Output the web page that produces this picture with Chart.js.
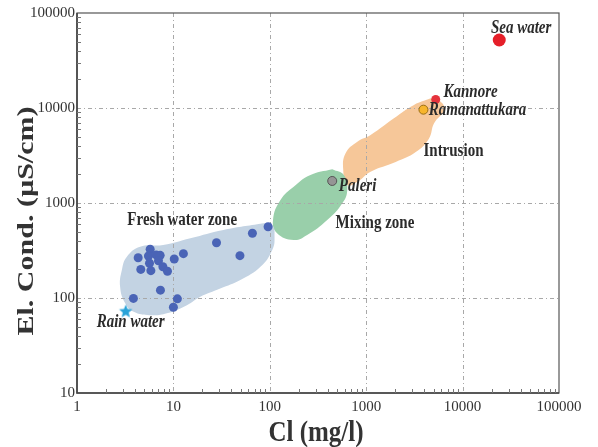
<!DOCTYPE html>
<html>
<head>
<meta charset="utf-8">
<script src="https://cdn.jsdelivr.net/npm/chart.js@4.4.0/dist/chart.umd.min.js"></script>
<style>
  html, body { margin: 0; padding: 0; background: #fff; }
</style>
</head>
<body>
<canvas id="chart" width="598" height="447"></canvas>
<script>
// axis ticks
const X_TICKS = [1, 10, 100, 1000, 10000, 100000];
const X_TICK_LABELS = ["1", "10", "100", "1000", "10000", "100000"];
const Y_TICKS = [10, 100, 1000, 10000, 100000];
const Y_TICK_LABELS = ["10", "100", "1000", "10000", "100000"];

// fresh water samples: Cl (mg/l) vs EC (µS/cm)
const freshCl = [96, 66, 28, 49, 12.7, 10.2, 5.74, 4.31, 5.51, 6.62, 7.29, 5.65, 7.0, 4.59, 5.84, 7.78, 8.68, 7.34, 3.85, 11.0, 10.0];
const freshEC = [563, 480, 382, 279, 293, 257, 326, 265, 277, 284, 281, 232, 247, 200, 194, 213, 191, 121, 99, 98, 80];

// named sites
const siteNames = ["Sea water", "Kannore", "Ramanattukara", "Paleri", "Rain water"];
const siteCl = [24000, 5260, 3925, 444, 3.2];
const siteEC = [52000, 12300, 9600, 1706, 72];

// zone outlines (Cl, EC)
const freshZoneCl = [85.8, 106, 112, 106, 80, 49.5, 30.6, 19.0, 13.8, 8.56, 5.74, 3.82, 3.15, 2.80, 2.92, 3.29, 4.52, 7.83, 15.0, 33];
const freshZoneEC = [611, 586, 442, 320, 213, 155, 126, 103, 84, 69, 66, 72, 88.5, 131, 197, 272, 347, 361, 425, 520];
const mixZoneCl = [444, 586, 636, 565, 394, 244, 177, 119, 108, 129, 177, 264];
const mixZoneEC = [2265, 1972, 1371, 993, 662, 460, 408, 480, 662, 1076, 1486, 1972];
const intrZoneCl = [4670, 5930, 6420, 5060, 4455, 3265, 2023, 1110, 809, 636, 578, 611, 809, 1110, 1940, 3130];
const intrZoneEC = [12650, 11640, 9530, 6900, 4720, 3443, 2705, 2135, 1675, 1546, 2225, 3335, 4420, 5200, 7800, 10770];

// text annotations, anchored at (Cl, EC) = left/baseline of the text
const noteText = ["Sea water", "Kannore", "Ramanattukara", "Intrusion", "Paleri", "Mixing zone", "Fresh water zone", "Rain water"];
const noteCl = [19650, 6330, 4455, 3925, 520, 481, 3.33, 1.60];
const noteEC = [61500, 13150, 8440, 3150, 1346, 542, 586, 49.9];
const noteItalic = [true, true, true, false, true, false, false, true];

const SERIF = '"Liberation Serif", "Times New Roman", serif';

const toPts = (xs, ys) => xs.map((x, i) => ({ x, y: ys[i] }));

function zone(label, xs, ys, color) {
  const pts = toPts(xs, ys);
  pts.push({ x: xs[0], y: ys[0] }); // close the outline
  return {
    type: "line", label, data: pts,
    backgroundColor: color, borderColor: color, borderWidth: 0,
    fill: "shape", tension: 0.45, pointRadius: 0, order: 3
  };
}

function makeStar(r, color) {
  const c = document.createElement("canvas");
  c.width = c.height = 2 * r + 2;
  const g = c.getContext("2d");
  g.fillStyle = color;
  g.beginPath();
  for (let i = 0; i < 10; i++) {
    const a = -Math.PI / 2 + i * Math.PI / 5;
    const rr = i % 2 ? r * 0.45 : r;
    g.lineTo(c.width / 2 + rr * Math.cos(a), c.height / 2 + rr * Math.sin(a));
  }
  g.closePath();
  g.fill();
  return c;
}

// stretched text, the original figure is taller than it is wide
function stretchText(ctx, text, x, y, font, sy) {
  ctx.save();
  ctx.translate(x, y);
  ctx.scale(1, sy);
  ctx.font = font;
  ctx.fillText(text, 0, 0);
  ctx.restore();
}

const decor = {
  id: "decor",
  afterDatasetDraw(chart, args) {
    // grid goes over the zones but under the points
    if (args.index !== 0) return;
    const { ctx, chartArea: a, scales: { x, y } } = chart;
    ctx.save();
    ctx.strokeStyle = "#a8a8a8";
    ctx.lineWidth = 1;
    ctx.setLineDash([4, 3, 1, 3]);
    X_TICKS.slice(1, -1).forEach(v => {
      const px = Math.round(x.getPixelForValue(v)) + 0.5;
      ctx.beginPath(); ctx.moveTo(px, a.top); ctx.lineTo(px, a.bottom); ctx.stroke();
    });
    Y_TICKS.slice(1, -1).forEach(v => {
      const py = Math.round(y.getPixelForValue(v)) + 0.5;
      ctx.beginPath(); ctx.moveTo(a.left, py); ctx.lineTo(a.right, py); ctx.stroke();
    });
    ctx.restore();
  },
  afterDraw(chart) {
    const { ctx, chartArea: a, scales: { x, y } } = chart;
    ctx.save();
    // frame
    ctx.strokeStyle = "#555";
    ctx.lineWidth = 1.2;
    ctx.strokeRect(a.left, a.top, a.right - a.left, a.bottom - a.top);
    ctx.strokeStyle = "#444";
    ctx.lineWidth = 1.6;
    ctx.beginPath();
    ctx.moveTo(a.left, a.top); ctx.lineTo(a.left, a.bottom); ctx.lineTo(a.right, a.bottom);
    ctx.stroke();
    // minor ticks inside the axes
    ctx.strokeStyle = "#777";
    ctx.lineWidth = 1;
    for (let d = 0; d < 5; d++) {
      for (let m = 2; m <= 9; m++) {
        const px = Math.round(x.getPixelForValue(m * Math.pow(10, d))) + 0.5;
        ctx.beginPath(); ctx.moveTo(px, a.bottom); ctx.lineTo(px, a.bottom - 4); ctx.stroke();
      }
    }
    for (let d = 1; d < 5; d++) {
      for (let m = 2; m <= 9; m++) {
        const py = Math.round(y.getPixelForValue(m * Math.pow(10, d))) + 0.5;
        ctx.beginPath(); ctx.moveTo(a.left, py); ctx.lineTo(a.left + 4, py); ctx.stroke();
      }
    }
    // annotations
    ctx.fillStyle = "#2b2b2b";
    ctx.textAlign = "left";
    ctx.textBaseline = "alphabetic";
    noteText.forEach((t, i) => {
      const f = (noteItalic[i] ? "italic " : "") + "bold 15px " + SERIF;
      stretchText(ctx, t, x.getPixelForValue(noteCl[i]), y.getPixelForValue(noteEC[i]), f, 1.2);
    });
    // axis titles
    ctx.fillStyle = "#333";
    ctx.textAlign = "center";
    stretchText(ctx, "Cl (mg/l)", (a.left + a.right) / 2 - 2, 441, "bold 25px " + SERIF, 1.2);
    ctx.save();
    ctx.translate(33, 221);
    ctx.rotate(-Math.PI / 2);
    ctx.scale(1.25, 1);
    ctx.font = "bold 24px " + SERIF;
    ctx.textBaseline = "alphabetic";
    ctx.fillText("El. Cond. (\u00b5S/cm)", 0, 0);
    ctx.restore();
    ctx.restore();
  }
};

const star = makeStar(7, "#2aa3d8");

new Chart(document.getElementById("chart"), {
  type: "scatter",
  data: {
    datasets: [
      zone("Fresh water zone", freshZoneCl, freshZoneEC, "#c3d3e3"),
      zone("Mixing zone", mixZoneCl, mixZoneEC, "#99cfaa"),
      zone("Intrusion", intrZoneCl, intrZoneEC, "#f6c799"),
      {
        label: "Fresh water",
        data: toPts(freshCl, freshEC),
        backgroundColor: "#4a64b6", borderWidth: 0, pointRadius: 4.5, order: 1
      },
      {
        label: "Sites",
        data: toPts(siteCl, siteEC),
        pointStyle: ["circle", "circle", "circle", "circle", star],
        pointRadius: [6.5, 4.5, 4.5, 4.5, 7],
        backgroundColor: ["#e51f29", "#e5333c", "#f7b52c", "#959595", "#2aa3d8"],
        borderColor: ["#e51f29", "#e5333c", "#9a6d12", "#555", "#2aa3d8"],
        borderWidth: [0, 0, 1, 1, 0],
        order: 1
      }
    ]
  },
  options: {
    responsive: false,
    animation: false,
    layout: { padding: { top: 13, right: 39, left: 0, bottom: 0 } },
    plugins: { legend: { display: false }, tooltip: { enabled: false } },
    scales: {
      x: {
        type: "logarithmic", min: 1, max: 100000,
        afterBuildTicks: s => { s.ticks = X_TICKS.map(v => ({ value: v })); },
        afterFit: s => { s.height = 54; },
        ticks: {
          callback: (v, i) => X_TICK_LABELS[i],
          font: { family: SERIF, size: 15 }, color: "#333",
          padding: 5, maxRotation: 0, autoSkip: false
        },
        grid: { drawOnChartArea: false, drawTicks: false },
        border: { display: false }
      },
      y: {
        type: "logarithmic", min: 10, max: 100000,
        afterBuildTicks: s => { s.ticks = Y_TICKS.map(v => ({ value: v })); },
        afterFit: s => { s.width = 77; },
        ticks: {
          callback: (v, i) => Y_TICK_LABELS[i],
          font: { family: SERIF, size: 15 }, color: "#333",
          padding: 2, autoSkip: false
        },
        grid: { drawOnChartArea: false, drawTicks: false },
        border: { display: false }
      }
    }
  },
  plugins: [decor]
});
</script>
</body>
</html>
